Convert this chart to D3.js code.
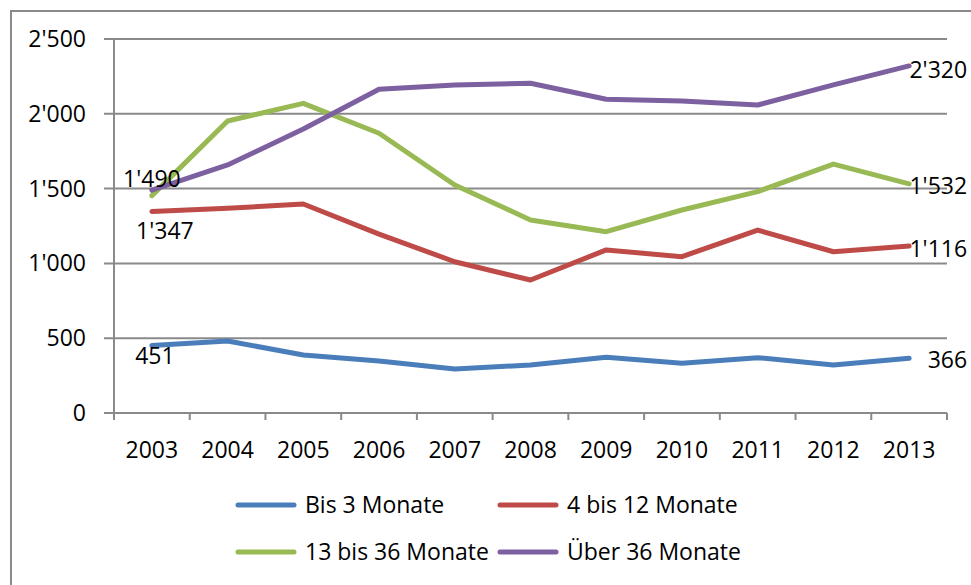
<!DOCTYPE html>
<html>
<head>
<meta charset="utf-8">
<script src="https://cdn.jsdelivr.net/npm/d3@7"></script>
<style>
  body { margin: 0; background: #fff; }
  text { font-family: "Open Sans", sans-serif; font-size: 23px; fill: #000; }
</style>
</head>
<body>
<div id="chart"></div>
<script>
// data
var years = ["2003","2004","2005","2006","2007","2008","2009","2010","2011","2012","2013"];
var seriesNames = ["Bis 3 Monate", "4 bis 12 Monate", "13 bis 36 Monate", "Über 36 Monate"];
var bis3   = [451, 481, 388, 348, 294, 321, 372, 332, 370, 321, 366];
var bis12  = [1347, 1368, 1397, 1196, 1011, 889, 1090, 1045, 1223, 1078, 1116];
var bis36  = [1453, 1952, 2070, 1870, 1524, 1290, 1212, 1357, 1480, 1664, 1532];
var ueber36 = [1490, 1658, 1898, 2164, 2193, 2204, 2097, 2086, 2059, 2193, 2320];
var yTicks = [0, 500, 1000, 1500, 2000, 2500];

var colors = ["#4a7ebb", "#be4b48", "#98b954", "#7d60a0"];
var values = [bis3, bis12, bis36, ueber36];

var width = 971, height = 585;
var plotLeft = 114, plotRight = 947, plotTop = 39, plotBottom = 413;

var svg = d3.select("#chart").append("svg")
  .attr("width", width)
  .attr("height", height);

// swiss style thousands separator
var fmt = d3.formatLocale({ thousands: "'", grouping: [3], decimal: ".", currency: ["", ""] }).format(",");

var x = d3.scaleBand().domain(years).range([plotLeft, plotRight]).padding(0);
var y = d3.scaleLinear().domain([0, 2500]).range([plotBottom, plotTop]);
var cx = d => x(d) + x.bandwidth() / 2;

// outer chart border (only top and left are in the picture)
svg.append("path")
  .attr("d", `M11,${height} V11 H${width}`)
  .attr("fill", "none")
  .attr("stroke", "#8a8a8a")
  .attr("stroke-width", 2);

// gridlines
svg.append("g").selectAll("line")
  .data(yTicks)
  .enter().append("line")
    .attr("x1", plotLeft - 10).attr("x2", plotRight)
    .attr("y1", d => y(d)).attr("y2", d => y(d))
    .attr("stroke", "#8a8a8a")
    .attr("stroke-width", 2);

// y axis line
svg.append("line")
  .attr("x1", plotLeft).attr("x2", plotLeft)
  .attr("y1", plotTop).attr("y2", plotBottom + 7)
  .attr("stroke", "#8a8a8a").attr("stroke-width", 2);

// y labels
svg.append("g").selectAll("text")
  .data(yTicks)
  .enter().append("text")
    .attr("x", plotLeft - 28)
    .attr("y", d => y(d))
    .attr("dy", "0.35em")
    .attr("text-anchor", "end")
    .text(d => fmt(d));

// x ticks at category edges
var edges = years.map(d => x(d)).concat([x.range()[1]]);
svg.append("g").selectAll("line")
  .data(edges)
  .enter().append("line")
    .attr("x1", d => d).attr("x2", d => d)
    .attr("y1", plotBottom).attr("y2", plotBottom + 7)
    .attr("stroke", "#8a8a8a").attr("stroke-width", 2);

// x labels
svg.append("g").selectAll("text")
  .data(years)
  .enter().append("text")
    .attr("x", d => cx(d))
    .attr("y", 450)
    .attr("dy", "0.35em")
    .attr("text-anchor", "middle")
    .text(d => d);

// lines
var line = d3.line()
  .x((d, i) => cx(years[i]))
  .y(d => y(d));

svg.append("g").selectAll("path")
  .data(values)
  .enter().append("path")
    .attr("d", d => line(d))
    .attr("fill", "none")
    .attr("stroke", (d, i) => colors[i])
    .attr("stroke-width", 5)
    .attr("stroke-linejoin", "round")
    .attr("stroke-linecap", "round");

// data labels on first and last points (offsets relative to the point)
var firstOff = [[3, 10], [13, 19], null, [0, -11]];
var lastOffY = [2, 3, 2, 4];
var last = years.length - 1;

values.forEach(function(v, i) {
  if (firstOff[i]) {
    svg.append("text")
      .attr("x", cx(years[0]) + firstOff[i][0])
      .attr("y", y(v[0]) + firstOff[i][1])
      .attr("dy", "0.35em")
      .attr("text-anchor", "middle")
      .text(fmt(v[0]));
  }
  svg.append("text")
    .attr("x", cx(years[last]) + 58)
    .attr("y", y(v[last]) + lastOffY[i])
    .attr("dy", "0.35em")
    .attr("text-anchor", "end")
    .text(fmt(v[last]));
});

// legend, two rows of two
var legend = svg.append("g").selectAll("g")
  .data(seriesNames)
  .enter().append("g")
    .attr("transform", (d, i) => `translate(${i % 2 ? 500 : 238}, ${i < 2 ? 505 : 552})`);

legend.append("line")
  .attr("x1", 0).attr("x2", 56)
  .attr("stroke", (d, i) => colors[i])
  .attr("stroke-width", 5)
  .attr("stroke-linecap", "round");

legend.append("text")
  .attr("x", 67)
  .attr("dy", "0.35em")
  .text(d => d);
</script>
</body>
</html>
